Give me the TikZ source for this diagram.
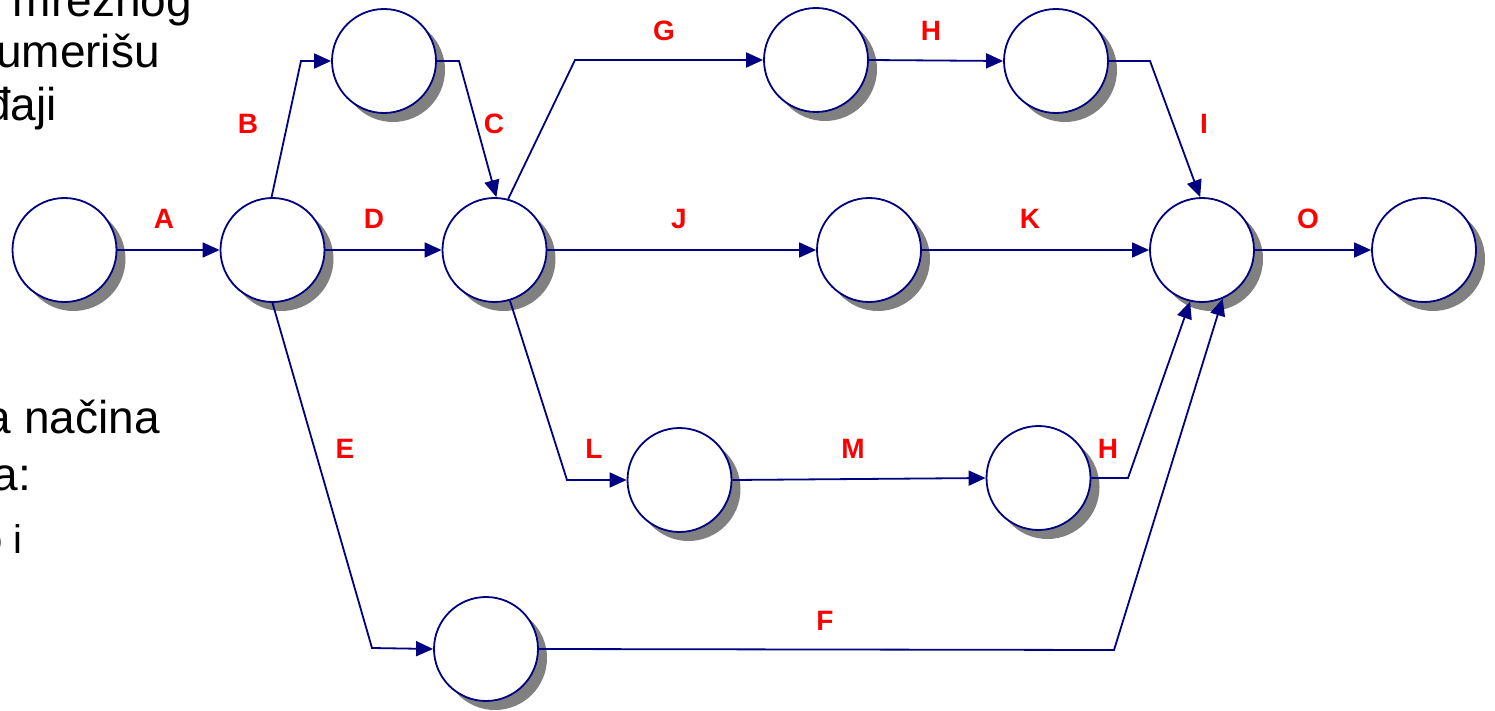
\documentclass[tikz,border=0pt]{standalone}
\usepackage{fontspec}
\setmainfont{Liberation Sans}
\usetikzlibrary{arrows.meta,shadows}
\definecolor{navyline}{RGB}{0,0,128}
\definecolor{lblred}{RGB}{255,0,0}
\definecolor{shadowgray}{RGB}{128,128,128}
\begin{document}
\begin{tikzpicture}[x=1pt,y=-1pt,
  evt/.style={circle,draw=navyline,line width=1.8pt,fill=white,minimum size=104pt,inner sep=0pt,
    drop shadow={shadow xshift=9pt,shadow yshift=-9pt,fill=shadowgray,opacity=1,draw=none}},
  act/.style={draw=navyline,line width=1.8pt,-{Triangle[length=17pt,width=15pt]}},
  lbl/.style={text=lblred,font=\fontsize{28}{30}\selectfont\bfseries,inner sep=0pt},
  bodytxt/.style={font=\fontsize{46}{52}\selectfont,anchor=base east,inner sep=0pt},
  smalltxt/.style={font=\fontsize{40}{46}\selectfont,anchor=base east,inner sep=0pt}]
\useasboundingbox (0,0) rectangle (1495,711);
\clip (0,0) rectangle (1495,711);
\fill[white] (0,0) rectangle (1495,711);

% partially visible slide text
\node[bodytxt] (t1) at (192,17) {mrežnog};
\node[bodytxt] (t2) at (160,68) {umerišu};
\node[bodytxt] (t3) at (57,121) {đaji};
\node[bodytxt] (t4) at (160,433) {a načina};
\node[bodytxt] (t5) at (31,490) {a:};
\node[smalltxt] (t6) at (23,553) {o i};

% events
\node[evt] (n1) at (64.5,250) {};
\node[evt] (n2) at (272.5,250) {};
\node[evt] (n3) at (384,61) {};
\node[evt] (n4) at (494.5,250) {};
\node[evt] (n5) at (816,60) {};
\node[evt] (n6) at (1056,61) {};
\node[evt] (n7) at (869,250) {};
\node[evt] (n8) at (1202,250) {};
\node[evt] (n9) at (1424,250) {};
\node[evt] (n10) at (679.5,480) {};
\node[evt] (n11) at (1038.5,478) {};
\node[evt] (n12) at (486,649) {};

% bend points
\coordinate (bB) at (301,61);
\coordinate (bC) at (459,61);
\coordinate (bG) at (575,60);
\coordinate (bI) at (1150,61);
\coordinate (bL) at (567,480);
\coordinate (bE) at (372,648);
\coordinate (bH) at (1128,478);
\coordinate (bF) at (1114,650);

% activities
\draw[act] (n1.east) -- (n2.west);
\draw[act] (n2.91) -- (bB) -- (n3.west);
\draw[act] (n3.east) -- (bC) -- (n4.88);
\draw[act] (n2.east) -- (n4.west);
\draw[act] (n4.75) -- (bG) -- (n5.west);
\draw[act] (n5.east) -- (n6.west);
\draw[act] (n6.east) -- (bI) -- (n8.92);
\draw[act] (n4.east) -- (n7.west);
\draw[act] (n7.east) -- (n8.west);
\draw[act] (n8.east) -- (n9.west);
\draw[act] (n4.-73) -- (bL) -- (n10.west);
\draw[act] (n10.east) -- (n11.west);
\draw[act] (n11.east) -- (bH) -- (n8.-103);
\draw[act] (n2.south) -- (bE) -- (n12.west);
\draw[act] (n12.east) -- (bF) -- (n8.-67);

% labels
\node[lbl] (lA) at (164,219) {A};
\node[lbl] (lB) at (248,124) {B};
\node[lbl] (lC) at (494,124) {C};
\node[lbl] (lD) at (374,219) {D};
\node[lbl] (lG) at (664,31) {G};
\node[lbl] (lH) at (931,31) {H};
\node[lbl] (lI) at (1204,124) {I};
\node[lbl] (lJ) at (679,219) {J};
\node[lbl] (lK) at (1030,219) {K};
\node[lbl] (lO) at (1308,219) {O};
\node[lbl] (lL) at (594,449) {L};
\node[lbl] (lM) at (853,449) {M};
\node[lbl] (lH2) at (1108,449) {H};
\node[lbl] (lE) at (345,449) {E};
\node[lbl] (lF) at (825,621) {F};
\end{tikzpicture}
\end{document}
